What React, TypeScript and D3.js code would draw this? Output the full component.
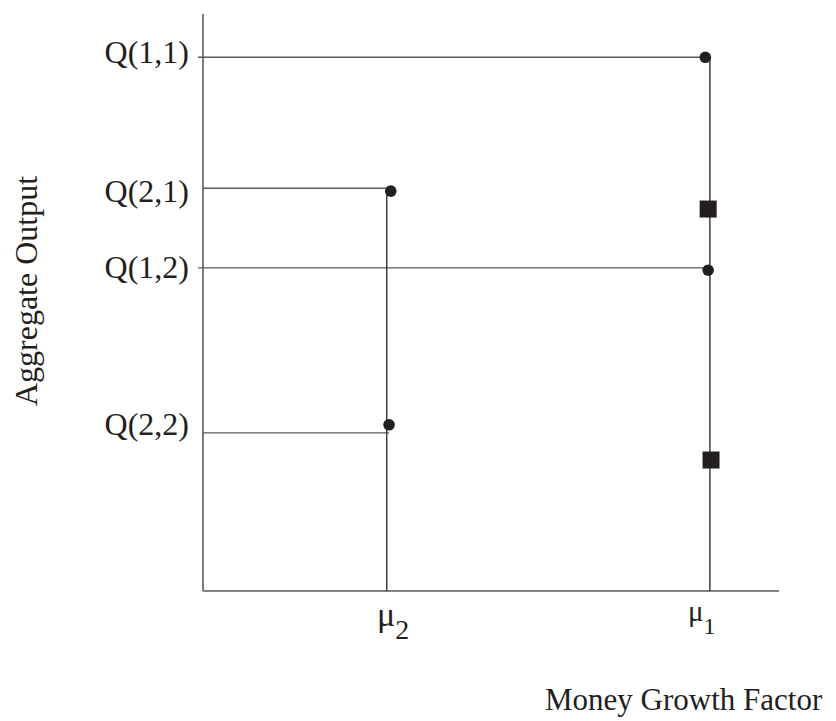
import React from 'react';
import { scaleLinear, line } from 'd3';

// output levels on the y axis (0-100 scale)
const qLabels = ['Q(1,1)', 'Q(2,1)', 'Q(1,2)', 'Q(2,2)'];
const qLevels = [92.5, 69.8, 56, 27.4];
const qStub = [true, false, true, false];
const qLabelDy = [6, 14, 10, 2];

// money growth factors on the x axis (0-100 scale)
const muLabels = [
  { base: 'μ', sub: '2' },
  { base: 'μ', sub: '1' },
];
const muValues = [31.9, 88.0];
const muLabelX = [30.2, 84.2];

// dots on the level lines
const dotX = [87.2, 32.6, 87.7, 32.3];
const dotY = [92.5, 69.3, 55.6, 28.8];

// squares on the mu1 line
const squareX = [87.7, 88.2];
const squareY = [66.2, 22.7];

const W = 836;
const H = 721;
const axisColor = '#5a5a5a';
const lineColor = '#333';
const ink = '#231f20';
const font = '"Liberation Serif", "Times New Roman", serif';

export default function App() {
  const x = scaleLinear().domain([0, 100]).range([203, 779]);
  const y = scaleLinear().domain([0, 100]).range([591, 14]);
  const seg = line<[number, number]>()
    .x((d) => x(d[0]))
    .y((d) => y(d[1]));

  // top of each vertical line = highest level attached to that mu
  const vTop = muValues.map((m, i) =>
    Math.max(...qLevels.filter((_, j) => (i === 1 ? j % 2 === 0 : j % 2 === 1)))
  );

  return (
    <svg
      width={W}
      height={H}
      style={{ position: 'absolute', left: 0, top: 0, background: '#fff' }}
      fontFamily={font}
    >
      {/* axes */}
      <path d={seg([[0, 0], [0, 100]]) ?? ''} stroke={axisColor} strokeWidth={1.6} fill="none" />
      <path d={seg([[0, 0], [100, 0]]) ?? ''} stroke={axisColor} strokeWidth={1.6} fill="none" />

      {/* horizontal level lines */}
      {qLevels.map((q, i) => (
        <line
          key={'h' + i}
          x1={x(0) - (qStub[i] ? 5 : 0)}
          x2={x(dotX[i])}
          y1={y(q)}
          y2={y(q)}
          stroke={axisColor}
          strokeWidth={1.4}
        />
      ))}

      {/* vertical lines */}
      {muValues.map((m, i) => (
        <line
          key={'v' + i}
          x1={x(m)}
          x2={x(m)}
          y1={y(vTop[i])}
          y2={y(0)}
          stroke={lineColor}
          strokeWidth={1.4}
        />
      ))}

      {/* dots */}
      {dotX.map((d, i) => (
        <circle key={'c' + i} cx={x(d)} cy={y(dotY[i])} r={5.8} fill={ink} />
      ))}

      {/* squares */}
      {squareX.map((s, i) => (
        <rect
          key={'s' + i}
          x={x(s) - 8.5}
          y={y(squareY[i]) - 8.5}
          width={17}
          height={17}
          fill={ink}
        />
      ))}

      {/* y labels */}
      {qLabels.map((l, i) => (
        <text
          key={'l' + i}
          x={189}
          y={y(qLevels[i]) + qLabelDy[i]}
          textAnchor="end"
          fontSize={32}
          fill={ink}
        >
          {l}
        </text>
      ))}

      {/* x labels */}
      {muLabels.map((m, i) => (
        <text
          key={'m' + i}
          x={x(muLabelX[i])}
          y={i === 0 ? 626 : 621}
          fill={ink}
        >
          <tspan fontSize={i === 0 ? 34 : 29}>{m.base}</tspan>
          <tspan dy={13} fontSize={i === 0 ? 28 : 24}>{m.sub}</tspan>
        </text>
      ))}

      {/* axis titles */}
      <text
        transform={`translate(37, 291) rotate(-90)`}
        textAnchor="middle"
        fontSize={32}
        fill={ink}
      >
        Aggregate Output
      </text>
      <text x={545} y={710} fontSize={31} fill={ink}>
        Money Growth Factor
      </text>
    </svg>
  );
}
